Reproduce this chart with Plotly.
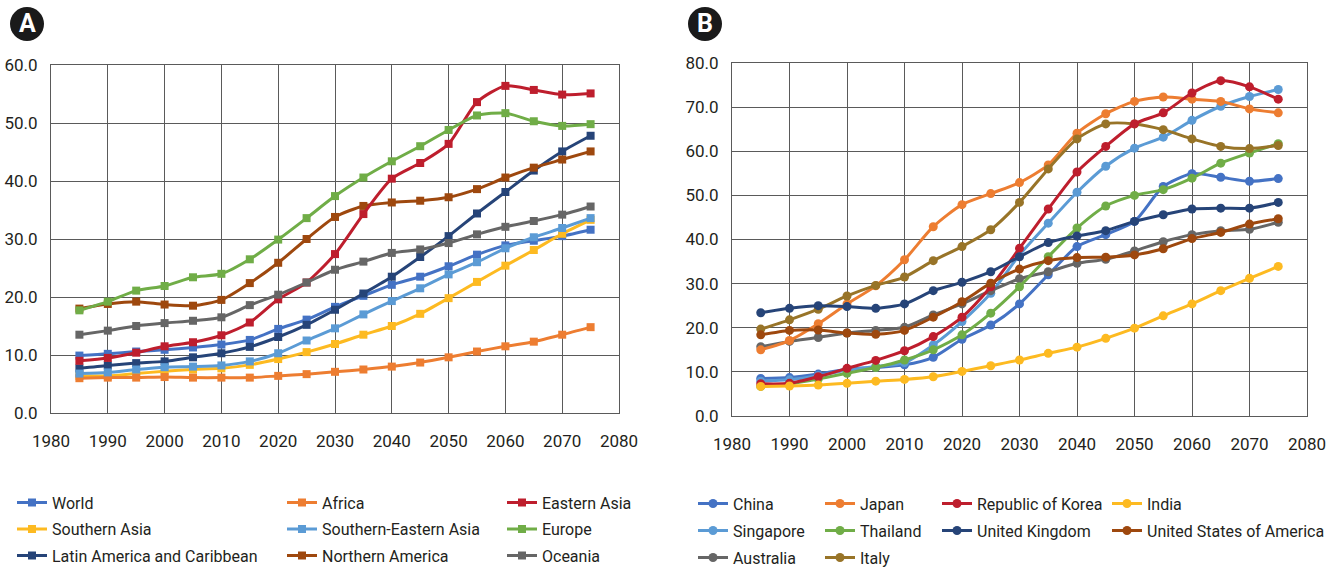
import plotly.graph_objects as go

years = list(range(1985, 2080, 5))

# Panel A: regions
world = [9.9, 10.2, 10.6, 10.9, 11.3, 11.8, 12.6, 14.5, 16.1, 18.3, 20.2, 22.1, 23.5, 25.3, 27.3, 28.9, 29.7, 30.5, 31.6]
africa = [6.0, 6.1, 6.1, 6.2, 6.1, 6.1, 6.1, 6.4, 6.7, 7.1, 7.5, 8.0, 8.7, 9.6, 10.6, 11.5, 12.3, 13.5, 14.8]
eastern_asia = [9.0, 9.5, 10.4, 11.5, 12.2, 13.4, 15.6, 19.6, 22.5, 27.4, 34.3, 40.4, 43.1, 46.4, 53.6, 56.4, 55.7, 54.9, 55.1]
southern_asia = [6.4, 6.4, 6.8, 7.2, 7.5, 7.7, 8.3, 9.3, 10.5, 11.9, 13.5, 15.0, 17.1, 19.8, 22.6, 25.4, 28.1, 30.9, 33.3]
se_asia = [6.8, 7.0, 7.5, 7.9, 8.0, 8.2, 8.9, 10.3, 12.5, 14.6, 17.0, 19.3, 21.5, 23.9, 26.0, 28.4, 30.3, 31.9, 33.6]
europe = [17.7, 19.2, 21.1, 21.9, 23.4, 24.0, 26.5, 29.9, 33.6, 37.4, 40.6, 43.4, 46.0, 48.8, 51.3, 51.7, 50.3, 49.5, 49.8]
latin_america = [7.7, 8.2, 8.6, 8.9, 9.6, 10.3, 11.4, 13.1, 15.2, 17.8, 20.6, 23.5, 26.9, 30.5, 34.4, 38.1, 41.8, 45.1, 47.8]
northern_america = [18.0, 18.8, 19.2, 18.7, 18.5, 19.5, 22.4, 25.9, 30.0, 33.8, 35.7, 36.3, 36.6, 37.2, 38.6, 40.6, 42.3, 43.7, 45.1]
oceania = [13.5, 14.2, 15.0, 15.5, 15.9, 16.5, 18.6, 20.4, 22.5, 24.7, 26.1, 27.6, 28.2, 29.3, 30.8, 32.1, 33.1, 34.2, 35.6]

# Panel B: countries
china = [8.5, 8.7, 9.5, 10.6, 11.0, 11.6, 13.3, 17.4, 20.6, 25.4, 32.0, 38.4, 41.1, 44.1, 52.0, 54.9, 54.1, 53.2, 53.8]
japan = [15.0, 17.1, 20.9, 25.4, 29.5, 35.4, 42.9, 47.9, 50.4, 52.9, 56.9, 64.1, 68.5, 71.3, 72.3, 71.8, 71.3, 69.6, 68.7]
korea = [7.3, 7.4, 8.9, 10.8, 12.6, 14.8, 18.0, 22.4, 29.3, 38.0, 46.9, 55.3, 61.1, 66.2, 68.7, 73.2, 76.0, 74.6, 71.8]
india = [6.7, 6.8, 7.0, 7.4, 7.9, 8.3, 8.9, 10.1, 11.4, 12.7, 14.2, 15.6, 17.6, 19.9, 22.7, 25.4, 28.4, 31.2, 33.9]
singapore = [7.9, 8.2, 9.1, 10.4, 11.2, 12.1, 16.1, 21.4, 27.8, 36.5, 43.7, 50.7, 56.6, 60.7, 63.2, 67.0, 70.2, 72.4, 74.0]
thailand = [6.7, 7.3, 8.4, 9.7, 11.0, 12.7, 15.0, 18.4, 23.3, 29.3, 36.1, 42.6, 47.6, 50.0, 51.3, 53.9, 57.3, 59.6, 61.7]
uk = [23.4, 24.4, 25.0, 24.8, 24.4, 25.4, 28.4, 30.3, 32.7, 36.1, 39.3, 40.8, 42.0, 44.1, 45.6, 46.9, 47.1, 47.1, 48.4]
usa = [18.4, 19.4, 19.5, 18.8, 18.5, 19.4, 22.4, 25.9, 30.1, 33.3, 35.2, 35.9, 36.0, 36.5, 37.9, 40.2, 41.6, 43.5, 44.7]
australia = [15.7, 16.9, 17.8, 18.8, 19.4, 20.1, 22.9, 25.4, 28.4, 31.1, 32.7, 34.6, 35.5, 37.4, 39.5, 41.1, 42.0, 42.3, 43.9]
italy = [19.7, 21.8, 24.2, 27.2, 29.6, 31.5, 35.2, 38.4, 42.2, 48.4, 56.0, 62.8, 66.2, 66.2, 64.9, 62.8, 61.1, 60.6, 61.3]

x_ticks = list(range(1980, 2090, 10))

BLUE = "#4472C4"
ORANGE = "#ED7D31"
RED = "#BE1E2D"
YELLOW = "#FDBA21"
LIGHTBLUE = "#5B9BD5"
GREEN = "#70AD47"
NAVY = "#264478"
BROWN = "#9E480E"
GRAY = "#666666"
OLIVE = "#987428"

FONT = "Roboto"
TXT = "#231F20"
W, H = 1330, 568

# (name, values, colour, legend id)
series_a = [
    ("World", world, BLUE, "legend"),
    ("Southern Asia", southern_asia, YELLOW, "legend"),
    ("Latin America and Caribbean", latin_america, NAVY, "legend"),
    ("Africa", africa, ORANGE, "legend2"),
    ("Southern-Eastern Asia", se_asia, LIGHTBLUE, "legend2"),
    ("Northern America", northern_america, BROWN, "legend2"),
    ("Eastern Asia", eastern_asia, RED, "legend3"),
    ("Europe", europe, GREEN, "legend3"),
    ("Oceania", oceania, GRAY, "legend3"),
]
series_b = [
    ("China", china, BLUE, "legend4"),
    ("Singapore", singapore, LIGHTBLUE, "legend4"),
    ("Australia", australia, GRAY, "legend4"),
    ("Japan", japan, ORANGE, "legend5"),
    ("Thailand", thailand, GREEN, "legend5"),
    ("Italy", italy, OLIVE, "legend5"),
    ("Republic of Korea", korea, RED, "legend6"),
    ("United Kingdom", uk, NAVY, "legend6"),
    ("India", india, YELLOW, "legend7"),
    ("United States of America", usa, BROWN, "legend7"),
]

fig = go.Figure()

for name, vals, col, leg in series_a:
    fig.add_trace(go.Scatter(
        x=years, y=vals, name=name, mode="lines+markers",
        line=dict(color=col, width=3, shape="spline", smoothing=0.7),
        marker=dict(symbol="square", size=8, color=col),
        xaxis="x", yaxis="y", legend=leg, legendgroup=name,
    ))

for name, vals, col, leg in series_b:
    fig.add_trace(go.Scatter(
        x=years, y=vals, name=name, mode="lines+markers",
        line=dict(color=col, width=3, shape="spline", smoothing=0.7),
        marker=dict(symbol="circle", size=9, color=col),
        xaxis="x2", yaxis="y2", legend=leg, legendgroup=name,
    ))

GRID = "#5a5a5a"
axis_common = dict(
    showgrid=True, gridcolor=GRID, gridwidth=1,
    showline=True, linecolor=GRID, linewidth=1, mirror=True,
    zeroline=False, ticks="", tickfont=dict(family=FONT, size=17, color=TXT),
)

fig.update_layout(
    width=W, height=H,
    margin=dict(l=0, r=0, t=0, b=0, autoexpand=False),
    paper_bgcolor="white", plot_bgcolor="white",
    showlegend=True,
    font=dict(family=FONT, color=TXT),
    xaxis=dict(domain=[51 / W, 619 / W], anchor="y", range=[1980, 2080],
               tickvals=x_ticks, ticklabelstandoff=13, **axis_common),
    yaxis=dict(domain=[1 - 413 / H, 1 - 65 / H], anchor="x", range=[0, 60], dtick=10,
               tickformat=".1f", ticklabelstandoff=9, **axis_common),
    xaxis2=dict(domain=[732 / W, 1307 / W], anchor="y2", range=[1980, 2080],
                tickvals=x_ticks, ticklabelstandoff=13, **axis_common),
    yaxis2=dict(domain=[1 - 416 / H, 1 - 63 / H], anchor="x2", range=[0, 80], dtick=10,
                tickformat=".1f", ticklabelstandoff=9, **axis_common),
)

legend_style = dict(
    orientation="v", xanchor="left", yanchor="top", xref="paper", yref="paper",
    traceorder="grouped", borderwidth=0,
    bgcolor="rgba(0,0,0,0)", font=dict(family=FONT, size=16, color=TXT),
)
# left position, top position, gap between rows (pixels)
legend_pos = {
    "legend": (12, 485.6, 2.7), "legend2": (282, 485.6, 2.7), "legend3": (502, 485.6, 2.7),
    "legend4": (693, 486.6, 3.2), "legend5": (820, 486.6, 3.2),
    "legend6": (937, 486.6, 3.2), "legend7": (1107, 486.6, 3.2),
}
for key, (px, py, gap) in legend_pos.items():
    fig.update_layout({key: dict(x=px / W, y=1 - py / H, tracegroupgap=gap,
                                 **legend_style)})

# Panel badges
for cx, letter in [(27, "A"), (705, "B")]:
    fig.add_shape(type="circle", xref="paper", yref="paper",
                  x0=(cx - 17) / W, x1=(cx + 17) / W,
                  y0=1 - (24 + 17) / H, y1=1 - (24 - 17) / H,
                  fillcolor="#1a1a1a", line=dict(width=0))
    fig.add_annotation(x=cx / W, y=1 - 24 / H, xref="paper", yref="paper",
                       xanchor="center", yanchor="middle",
                       text=f"<b>{letter}</b>", showarrow=False,
                       font=dict(family=FONT, size=25, color="white"))

fig.write_html("out.html")
